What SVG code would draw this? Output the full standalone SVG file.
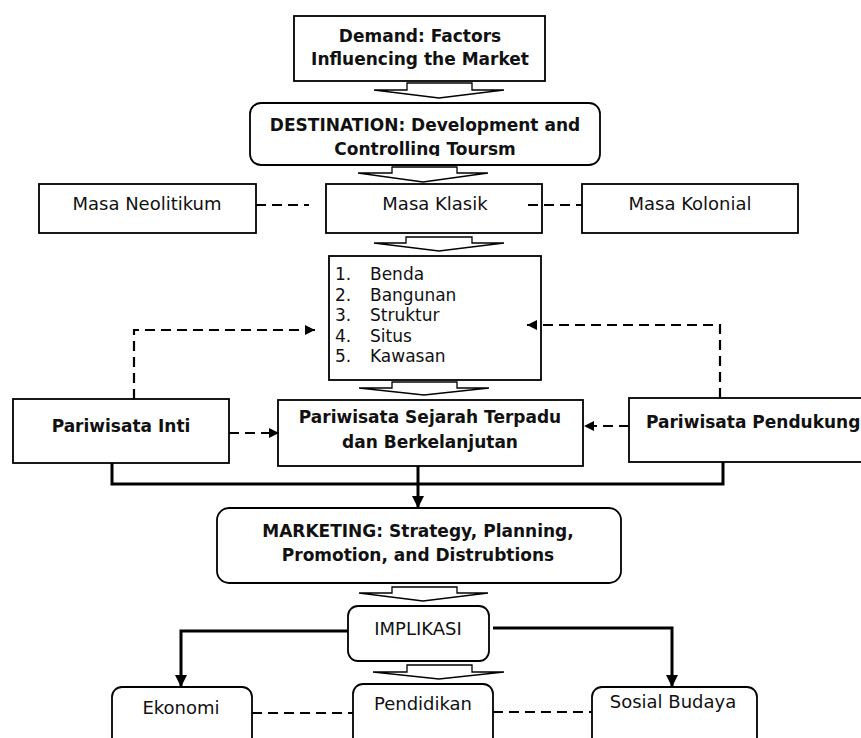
<svg xmlns="http://www.w3.org/2000/svg" width="861" height="738" viewBox="0 0 861 738">
<style>
  .box{fill:#fff;stroke:#000;stroke-width:1.8}
  .t{font-family:"DejaVu Sans","Liberation Sans",sans-serif;font-size:18px;fill:#111}
  .b{font-family:"DejaVu Sans","Liberation Sans",sans-serif;font-size:17px;font-weight:bold;fill:#111}
  .l{font-family:"DejaVu Sans","Liberation Sans",sans-serif;font-size:17px;fill:#111}
  .c{text-anchor:middle}
  .blk{fill:#fff;stroke:#000;stroke-width:1.3;stroke-linejoin:miter}
  .dash{fill:none;stroke:#000;stroke-width:2.2;stroke-dasharray:10 6}
  .solid{fill:none;stroke:#000;stroke-width:3}
</style>
<defs>
  <marker id="ah" markerUnits="userSpaceOnUse" markerWidth="10" markerHeight="10" refX="10" refY="5" orient="auto">
    <path d="M0,0 L10,5 L0,10 z" fill="#000"/>
  </marker>
  <marker id="ahb" markerUnits="userSpaceOnUse" markerWidth="12" markerHeight="12" refX="12" refY="6" orient="auto">
    <path d="M0,0 L12,6 L0,12 z" fill="#000"/>
  </marker>
  <clipPath id="destclip"><rect x="250" y="103" width="350" height="53"/></clipPath>
</defs>

<g id="demand">
  <rect class="box" x="294" y="16" width="251" height="65"/>
  <text class="b c" x="420" y="42">Demand: Factors</text>
  <text class="b c" x="420" y="65">Influencing the Market</text>
</g>
<g id="destination">
  <rect class="box" x="250" y="103" width="350" height="62" rx="11"/>
  <g clip-path="url(#destclip)">
    <text class="b c" x="425" y="131">DESTINATION: Development and</text>
    <text class="b c" x="425" y="155">Controlling Toursm</text>
  </g>
</g>
<g id="masa-neolitikum">
  <rect class="box" x="39" y="184" width="217" height="49"/>
  <text class="t c" x="147" y="210">Masa Neolitikum</text>
</g>
<g id="masa-klasik">
  <rect class="box" x="326" y="184" width="216" height="49"/>
  <text class="t c" x="435" y="210">Masa Klasik</text>
</g>
<g id="masa-kolonial">
  <rect class="box" x="582" y="184" width="216" height="49"/>
  <text class="t c" x="690" y="210">Masa Kolonial</text>
</g>
<g id="list">
  <rect class="box" x="329" y="256" width="212" height="124"/>
  <text class="l" x="335" y="280">1.</text><text class="l" x="370" y="280">Benda</text>
  <text class="l" x="335" y="301">2.</text><text class="l" x="370" y="301">Bangunan</text>
  <text class="l" x="335" y="321">3.</text><text class="l" x="370" y="321">Struktur</text>
  <text class="l" x="335" y="342">4.</text><text class="l" x="370" y="342">Situs</text>
  <text class="l" x="335" y="362">5.</text><text class="l" x="370" y="362">Kawasan</text>
</g>
<g id="pariwisata-inti">
  <rect class="box" x="13" y="399" width="216" height="64"/>
  <text class="b c" x="121" y="432">Pariwisata Inti</text>
</g>
<g id="pariwisata-sejarah">
  <rect class="box" x="278" y="400" width="305" height="66"/>
  <text class="b c" x="430" y="423">Pariwisata Sejarah Terpadu</text>
  <text class="b c" x="430" y="448">dan Berkelanjutan</text>
</g>
<g id="pariwisata-pendukung">
  <rect class="box" x="629" y="398" width="245" height="64"/>
  <text class="b" x="646" y="428">Pariwisata Pendukung</text>
</g>
<g id="marketing">
  <rect class="box" x="217" y="508" width="404" height="75" rx="12"/>
  <text class="b c" x="418" y="537">MARKETING: Strategy, Planning,</text>
  <text class="b c" x="418" y="561">Promotion, and Distrubtions</text>
</g>
<g id="implikasi">
  <rect class="box" x="348" y="606" width="141" height="55" rx="10"/>
  <text class="t c" x="418" y="635">IMPLIKASI</text>
</g>
<g id="ekonomi">
  <rect class="box" x="112" y="687" width="140" height="70" rx="10"/>
  <text class="t c" x="181" y="714">Ekonomi</text>
</g>
<g id="pendidikan">
  <rect class="box" x="353" y="684" width="140" height="70" rx="10"/>
  <text class="t c" x="423" y="710">Pendidikan</text>
</g>
<g id="sosial-budaya">
  <rect class="box" x="592" y="687" width="165" height="70" rx="10"/>
  <text class="t c" x="673" y="708">Sosial Budaya</text>
</g>

<g id="connectors">
  <path class="blk" d="M407,83 H472 V90 H504 L439,98 L374,90 H407 Z"/>
  <path class="blk" d="M392,167 H457 V173 H488 L423,182 L358,173 H392 Z"/>
  <path class="blk" d="M406,237 H472 V243 H504 L439,251 L374,243 H406 Z"/>
  <path class="blk" d="M392,382 H457 V388 H489 L424,395 L359,388 H392 Z"/>
  <path class="blk" d="M392,587 H457 V593 H488 L423,601 L359,593 H392 Z"/>
  <path class="blk" d="M407,665 H472 V672 H504 L439,679 L373,672 H407 Z"/>
  <path class="dash" d="M256,205 H309"/>
  <path class="dash" d="M528,205 H582"/>
  <path class="dash" d="M134,399 V330 H315" marker-end="url(#ah)"/>
  <path class="dash" d="M720,398 V325 H527" marker-end="url(#ah)"/>
  <path class="dash" d="M229,433 H279" marker-end="url(#ah)"/>
  <path class="dash" d="M629,426 H584" marker-end="url(#ah)"/>
  <path class="dash" d="M252,713 H353"/>
  <path class="dash" d="M493,712 H592"/>
  <path class="solid" d="M112,463 V484 H723 V462"/>
  <path class="solid" d="M418,466 V508" marker-end="url(#ahb)"/>
  <path class="solid" d="M348,631 H181 V687" marker-end="url(#ahb)"/>
  <path class="solid" d="M493,628 H672 V687" marker-end="url(#ahb)"/>
</g>
</svg>
